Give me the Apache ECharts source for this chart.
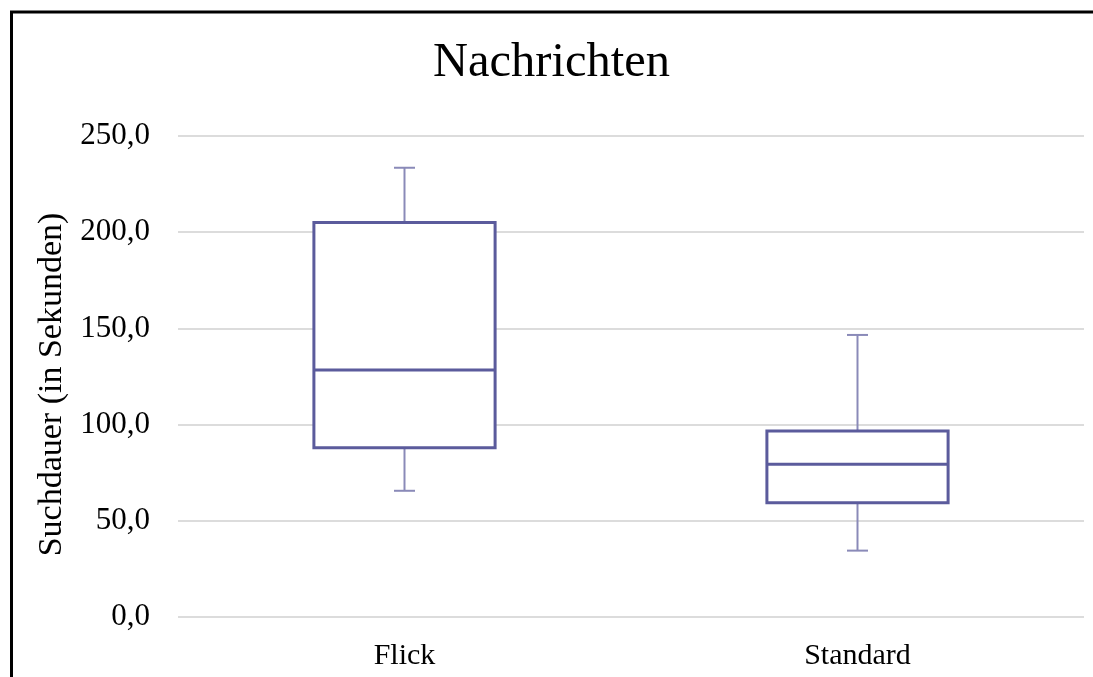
<!DOCTYPE html>
<html>
<head>
<meta charset="utf-8">
<script src="https://cdn.jsdelivr.net/npm/echarts@6/dist/echarts.min.js"></script>
<style>html,body{margin:0;padding:0;background:#fff}#c{width:1093px;height:677px}</style>
</head>
<body>
<div id="c"></div>
<script>
var categories = ['Flick', 'Standard'];
var whiskerMin = [65.6, 34.5];
var quartile1 = [88.0, 59.4];
var medians = [128.4, 79.4];
var quartile3 = [205.1, 96.7];
var whiskerMax = [233.5, 146.6];
var yTickLabels = ['0,0', '50,0', '100,0', '150,0', '200,0', '250,0'];

var FONT = '"Liberation Serif", "Times New Roman", serif';
var BOX_COLOR = '#5b5b9c';
var WHISKER_COLOR = '#8a8ab8';

var data = categories.map(function (c, i) {
  return [i, whiskerMin[i], quartile1[i], medians[i], quartile3[i], whiskerMax[i]];
});

function renderBox(params, api) {
  var idx = api.value(0);
  var band = api.size([1, 0])[0];
  var half = band * 0.2;
  var capHalf = 10.5;
  var pMin = api.coord([idx, api.value(1)]);
  var pQ1 = api.coord([idx, api.value(2)]);
  var pMed = api.coord([idx, api.value(3)]);
  var pQ3 = api.coord([idx, api.value(4)]);
  var pMax = api.coord([idx, api.value(5)]);
  var x = pMed[0];
  var wStyle = { stroke: WHISKER_COLOR, lineWidth: 2, fill: null };
  var bStyle = { stroke: BOX_COLOR, lineWidth: 3 };
  return {
    type: 'group',
    children: [
      { type: 'line', shape: { x1: x, y1: pMax[1], x2: x, y2: pQ3[1] }, style: wStyle },
      { type: 'line', shape: { x1: x - capHalf, y1: pMax[1], x2: x + capHalf, y2: pMax[1] }, style: wStyle },
      { type: 'line', shape: { x1: x, y1: pMin[1], x2: x, y2: pQ1[1] }, style: wStyle },
      { type: 'line', shape: { x1: x - capHalf, y1: pMin[1], x2: x + capHalf, y2: pMin[1] }, style: wStyle },
      { type: 'rect', shape: { x: x - half, y: pQ3[1], width: half * 2, height: pQ1[1] - pQ3[1] },
        style: { stroke: BOX_COLOR, lineWidth: 3, fill: '#ffffff' } },
      { type: 'line', shape: { x1: x - half, y1: pMed[1], x2: x + half, y2: pMed[1] }, style: bStyle }
    ]
  };
}

var chart = echarts.init(document.getElementById('c'), null, { renderer: 'canvas' });
chart.setOption({
  backgroundColor: '#ffffff',
  animation: false,
  title: {
    text: 'Nachrichten',
    left: 428,
    top: 34,
    textStyle: { fontFamily: FONT, fontSize: 48.5, fontWeight: 'normal', color: '#000' }
  },
  grid: { left: 178, right: 9, top: 136, bottom: 60 },
  xAxis: {
    type: 'category',
    data: categories,
    axisLine: { show: false },
    axisTick: { show: false },
    axisLabel: { fontFamily: FONT, fontSize: 30, color: '#000', margin: 24 }
  },
  yAxis: {
    type: 'value',
    min: 0,
    max: 250,
    interval: 50,
    name: 'Suchdauer (in Sekunden)',
    nameLocation: 'middle',
    nameGap: 108,
    nameTextStyle: { fontFamily: FONT, fontSize: 34, color: '#000', padding: [0, 16, 0, 0] },
    axisLine: { show: false },
    axisTick: { show: false },
    splitLine: { lineStyle: { color: '#d0d0d0', width: 1.5 } },
    axisLabel: {
      fontFamily: FONT, fontSize: 31, color: '#000', margin: 28,
      formatter: function (v) { return yTickLabels[Math.round(v / 50)]; }
    }
  },
  series: [{
    type: 'custom',
    renderItem: renderBox,
    encode: { x: 0, y: [1, 2, 3, 4, 5] },
    data: data
  }],
  graphic: [
    { type: 'line', shape: { x1: 11.5, y1: 11, x2: 11.5, y2: 677 }, style: { stroke: '#000', lineWidth: 3 } },
    { type: 'line', shape: { x1: 10, y1: 12, x2: 1093, y2: 12 }, style: { stroke: '#000', lineWidth: 3 } }
  ]
});
</script>
</body>
</html>
